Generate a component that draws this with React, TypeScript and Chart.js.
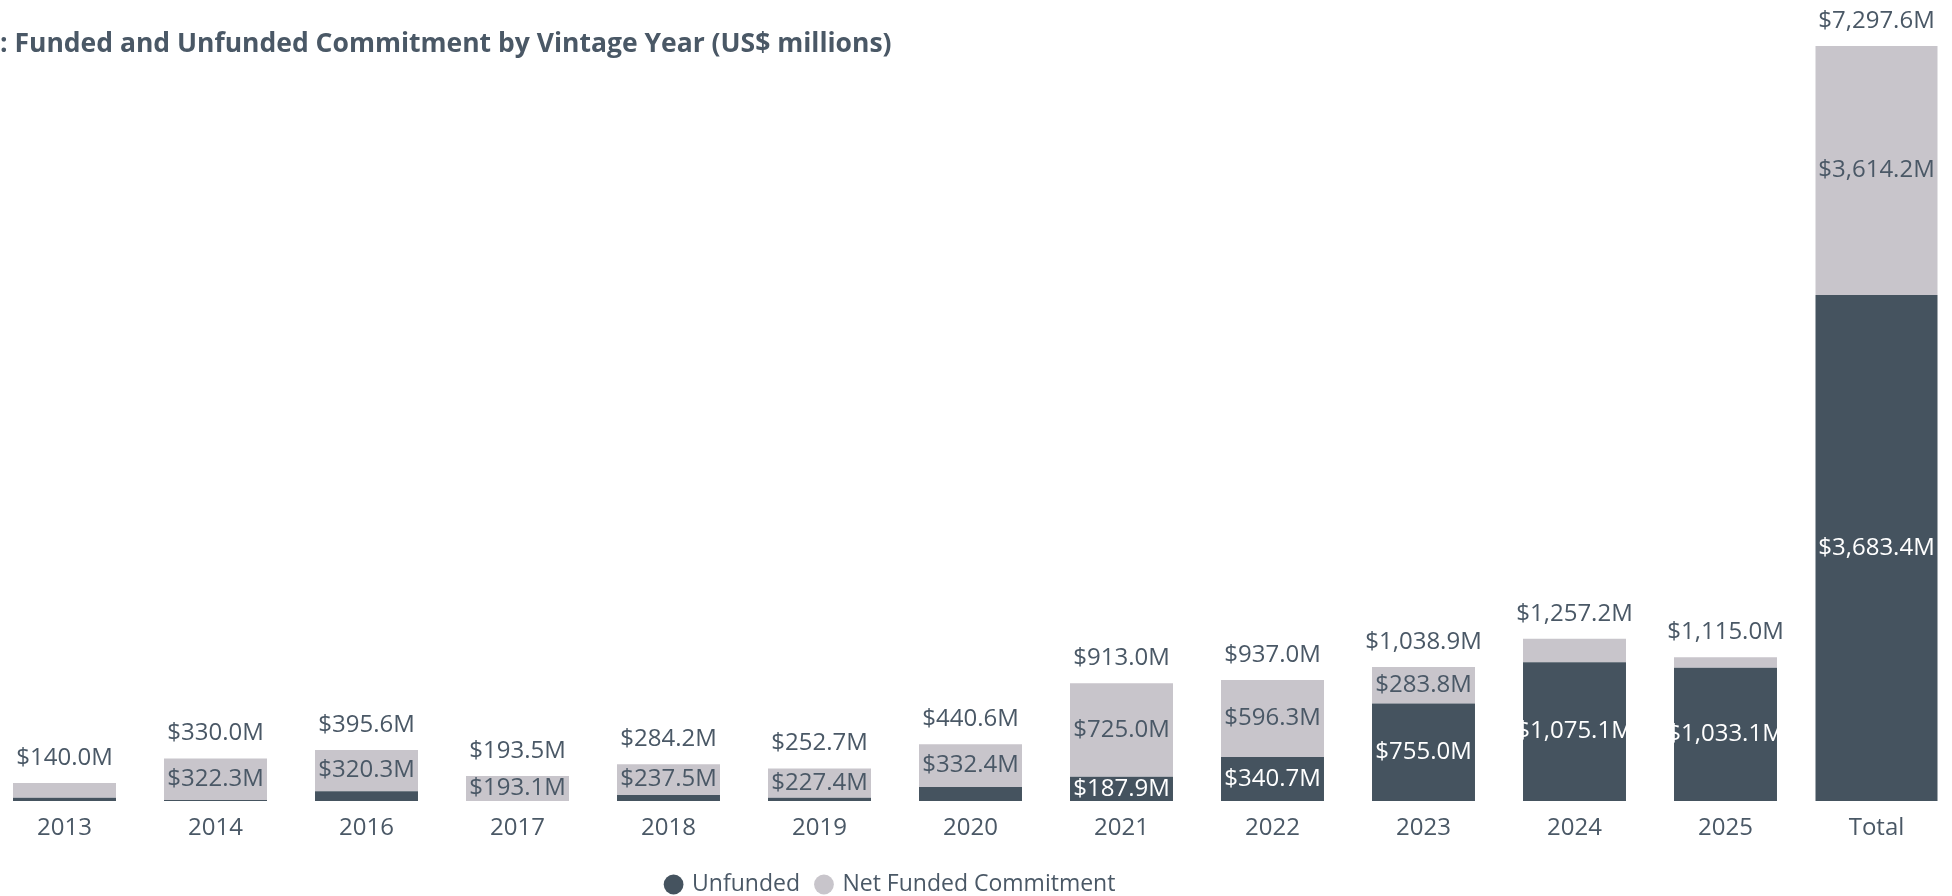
import React, { useEffect, useRef } from "react";
import { Chart, registerables } from "chart.js";

Chart.register(...registerables);

const TITLE = ": Funded and Unfunded Commitment by Vintage Year (US$ millions)";
const CATEGORIES = ["2013", "2014", "2016", "2017", "2018", "2019", "2020", "2021", "2022", "2023", "2024", "2025", "Total"];
const UNFUNDED = [25.0, 7.7, 75.3, 0.4, 46.7, 25.3, 108.2, 187.9, 340.7, 755.0, 1075.1, 1033.1];
const NET_FUNDED = [115.0, 322.3, 320.3, 193.1, 237.5, 227.4, 332.4, 725.0, 596.3, 283.8, 182.1, 81.9];
const BAR_TOTALS = [140.0, 330.0, 395.6, 193.5, 284.2, 252.7, 440.6, 913.0, 937.0, 1038.9, 1257.2, 1115.0];
const TOTAL_UNFUNDED = 3683.4;
const TOTAL_NET_FUNDED = 3614.2;
const GRAND_TOTAL = 7297.6;
const SERIES_NAMES = ["Unfunded", "Net Funded Commitment"];

const LABEL_MIN_VALUE = 185;

const DARK = "#45535F";
const LIGHT = "#C8C5CB";
const TEXT = "#4A5866";
const FONT = '"Open Sans", "Noto Sans", sans-serif';

const fmt = (v: number) =>
  "$" + v.toLocaleString("en-US", { minimumFractionDigits: 1, maximumFractionDigits: 1 }) + "M";

const labelPlugin = {
  id: "segLabels",
  afterDatasetsDraw(chart: any) {
    const ctx = chart.ctx;
    const last = CATEGORIES.length - 1;
    ctx.save();
    ctx.font = `24px ${FONT}`;
    ctx.textAlign = "center";
    ctx.textBaseline = "middle";
    chart.data.datasets.forEach((ds: any, di: number) => {
      const meta = chart.getDatasetMeta(di);
      meta.data.forEach((el: any, i: number) => {
        const v = ds.data[i];
        if (v == null) return;
        if (i !== last && v < LABEL_MIN_VALUE) return;
        const { x, y, base } = el.getProps(["x", "y", "base"], true);
        ctx.fillStyle = di % 2 === 0 ? "#FFFFFF" : TEXT;
        ctx.fillText(fmt(v), x, (y + base) / 2);
      });
    });
    ctx.fillStyle = TEXT;
    const topMeta = chart.getDatasetMeta(1);
    BAR_TOTALS.forEach((t, i) => {
      const el = topMeta.data[i];
      ctx.fillText(fmt(t), el.x, el.y - 25);
    });
    const totEl = chart.getDatasetMeta(3).data[last];
    ctx.fillText(fmt(GRAND_TOTAL), totEl.x, totEl.y - 25);
    ctx.restore();
  },
};

export default function App() {
  const ref = useRef<HTMLCanvasElement>(null);

  useEffect(() => {
    if (!ref.current) return;
    const nulls = UNFUNDED.map(() => null);
    const chart = new Chart(ref.current, {
      type: "bar",
      data: {
        labels: CATEGORIES,
        datasets: [
          {
            label: SERIES_NAMES[0],
            data: [...UNFUNDED, null],
            backgroundColor: DARK,
            yAxisID: "y",
            grouped: false,
            categoryPercentage: 1,
            barPercentage: 0.682,
          },
          {
            label: SERIES_NAMES[1],
            data: [...NET_FUNDED, null],
            backgroundColor: LIGHT,
            yAxisID: "y",
            grouped: false,
            categoryPercentage: 1,
            barPercentage: 0.682,
          },
          {
            label: SERIES_NAMES[0],
            data: [...nulls, TOTAL_UNFUNDED],
            backgroundColor: DARK,
            yAxisID: "y2",
            base: -3661,
            grouped: false,
            categoryPercentage: 1,
            barPercentage: 0.808,
          },
          {
            label: SERIES_NAMES[1],
            data: [...nulls, TOTAL_NET_FUNDED],
            backgroundColor: LIGHT,
            yAxisID: "y2",
            grouped: false,
            categoryPercentage: 1,
            barPercentage: 0.808,
          },
        ] as any,
      },
      options: {
        animation: false,
        responsive: false,
        maintainAspectRatio: false,
        layout: { padding: 0 },
        plugins: {
          title: { display: false },
          tooltip: { enabled: false },
          legend: {
            display: true,
            position: "bottom",
            align: "center",
            labels: {
              usePointStyle: true,
              pointStyle: "circle",
              boxWidth: 14,
              boxHeight: 14,
              padding: 17,
              color: TEXT,
              font: { family: FONT, size: 23 },
              filter: (item: any) => item.datasetIndex < 2,
            },
          },
        },
        scales: {
          x: {
            type: "category",
            stacked: true,
            grid: { display: false, drawTicks: false },
            border: { display: false },
            ticks: { color: TEXT, font: { family: FONT, size: 24 }, padding: 13, maxRotation: 0 },
            afterFit: (scale: any) => {
              scale.height = 55;
            },
          },
          y: {
            display: true,
            position: "left",
            stacked: true,
            min: 0,
            max: 6208,
            grid: { display: false, drawTicks: false },
            border: { display: false },
            ticks: { display: false },
            afterFit: (scale: any) => {
              scale.width = 159;
            },
          },
          y2: { display: false, stacked: true, min: -3661, max: 7965 },
        },
      },
      plugins: [labelPlugin],
    });
    return () => chart.destroy();
  }, []);

  return (
    <div style={{ position: "fixed", left: 0, top: 0, width: 1952, height: 896, overflow: "hidden", background: "#fff" }}>
      <div
        style={{
          position: "absolute",
          left: 0,
          top: 25,
          font: `bold 26.5px ${FONT}`,
          lineHeight: "34px",
          color: TEXT,
          whiteSpace: "nowrap",
          zIndex: 2,
        }}
      >
        {TITLE}
      </div>
      <div style={{ position: "absolute", left: -170, top: 0, width: 2122, height: 906 }}>
        <canvas ref={ref} width={2122} height={906} style={{ width: 2122, height: 906, display: "block" }} />
      </div>
    </div>
  );
}
